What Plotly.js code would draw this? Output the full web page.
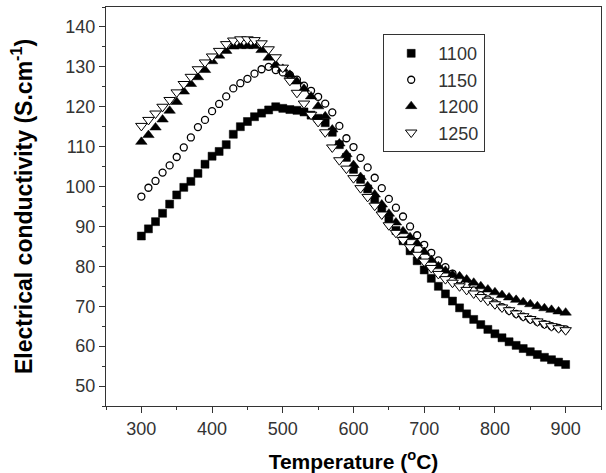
<!DOCTYPE html>
<html>
<head>
<meta charset="utf-8">
<script src="https://cdn.plot.ly/plotly-3.0.1.min.js"></script>
<style>
  html, body { margin: 0; padding: 0; background: #fff; }
  #chart { width: 606px; height: 473px; }
</style>
</head>
<body>
<div id="chart"></div>
<script>
// Temperature readings, 300–900 °C in 10 °C steps
const temperature = [
  300, 310, 320, 330, 340, 350, 360, 370, 380, 390,
  400, 410, 420, 430, 440, 450, 460, 470, 480, 490,
  500, 510, 520, 530, 540, 550, 560, 570, 580, 590,
  600, 610, 620, 630, 640, 650, 660, 670, 680, 690,
  700, 710, 720, 730, 740, 750, 760, 770, 780, 790,
  800, 810, 820, 830, 840, 850, 860, 870, 880, 890,
  900
];

// Electrical conductivity (S/cm) per sintering temperature
const sigma1100 = [
  87.6, 89.4, 91.2, 93.3, 95.6, 97.9, 99.8, 101.3, 103.3, 105.6,
  107.6, 108.8, 110.5, 113.1, 115.0, 116.3, 117.5, 118.4, 119.2, 120.0,
  119.6, 119.3, 119.1, 118.7, 117.9, 117.1, 116.0, 113.6, 110.5, 107.3,
  104.3, 101.8, 99.4, 96.9, 94.3, 91.6, 89.0, 86.4, 83.9, 81.4,
  79.1, 77.0, 75.0, 73.1, 71.3, 69.6, 68.1, 66.7, 65.4, 64.2,
  63.1, 62.1, 61.1, 60.2, 59.4, 58.6, 57.9, 57.2, 56.6, 56.0,
  55.4
];

const sigma1150 = [
  97.5, 99.7, 101.4, 103.5, 105.3, 107.4, 109.8, 112.3, 114.9, 116.7,
  118.9, 120.7, 122.6, 124.6, 125.9, 127.0, 128.3, 129.4, 130.0, 129.2,
  128.6, 128.0, 126.8, 125.3, 124.0, 122.5, 120.8, 118.6, 115.2, 112.1,
  109.9, 107.2, 104.8, 102.2, 99.6, 96.9, 94.7, 92.5, 90.0, 87.8,
  85.4, 83.4, 81.5, 79.8, 78.2, 76.7, 75.3, 74.0, 72.8, 71.7,
  70.7, 69.8, 68.9, 68.1, 67.4, 66.7, 66.1, 65.5, 65.0, 64.6,
  64.2
];

const sigma1200 = [
  111.2, 112.9, 114.8, 116.8, 119.0, 121.2, 123.8, 125.7, 127.4, 129.2,
  131.4, 132.8, 134.0, 135.1, 135.2, 135.2, 135.2, 134.2, 132.3, 130.5,
  129.5, 128.0, 126.3, 124.5, 122.6, 120.1, 117.6, 114.3, 110.8, 108.1,
  105.4, 102.4, 100.1, 98.0, 95.5, 93.2, 91.0, 88.8, 87.3, 85.7,
  83.6, 81.6, 80.0, 78.9, 77.9, 77.5, 76.7, 75.9, 75.0, 74.2,
  73.5, 72.8, 72.2, 71.6, 71.0, 70.5, 70.0, 69.5, 69.1, 68.7,
  68.4
];

const sigma1250 = [
  115.2, 116.7, 118.3, 120.0, 121.7, 123.6, 125.7, 127.5, 129.4, 131.1,
  132.6, 134.0, 135.7, 136.6, 136.9, 136.9, 136.7, 135.9, 134.4, 132.4,
  129.8, 126.5, 123.5, 120.8, 118.0, 116.2, 113.6, 109.8, 106.6, 104.5,
  102.1, 99.6, 97.4, 95.2, 93.0, 90.3, 88.4, 86.6, 84.8, 82.9,
  81.2, 79.6, 78.1, 76.8, 75.9, 75.0, 74.1, 73.2, 72.3, 71.4,
  70.5, 69.7, 69.0, 68.2, 67.5, 66.8, 66.2, 65.6, 65.0, 64.5,
  64.0
];

const seriesNames = ['1100', '1150', '1200', '1250'];

const FONT = 'Liberation Sans, Arial, sans-serif';
const INK = '#000';

function series(name, y, symbol, size, fill, lineWidth) {
  return {
    type: 'scatter',
    mode: 'markers',
    name: name,
    x: temperature,
    y: y,
    marker: {
      symbol: symbol,
      size: size,
      color: fill,
      line: { color: INK, width: lineWidth }
    }
  };
}

const traces = [
  series(seriesNames[0], sigma1100, 'square', 8, INK, 0.5),
  series(seriesNames[1], sigma1150, 'circle', 7, '#fff', 1.3),
  series(seriesNames[2], sigma1200, 'triangle-up', 10, INK, 0.5),
  series(seriesNames[3], sigma1250, 'triangle-down', 10, '#fff', 1)
];

const axisCommon = {
  showline: true,
  mirror: true,
  linecolor: '#333',
  linewidth: 1,
  showgrid: false,
  zeroline: false,
  ticks: 'outside',
  ticklen: 6,
  tickwidth: 1,
  tickcolor: '#333',
  tickfont: { family: FONT, size: 18, color: '#333' },
  automargin: false
};

const layout = {
  width: 606,
  height: 473,
  margin: { l: 106, r: 5, t: 7, b: 67 },
  paper_bgcolor: '#fff',
  plot_bgcolor: '#fff',
  showlegend: true,
  font: { family: FONT, color: INK },
  xaxis: Object.assign({}, axisCommon, {
    range: [250, 950],
    tick0: 300,
    dtick: 100,
    minor: { dtick: 50, ticks: 'outside', ticklen: 3, tickcolor: '#333' },
    title: {
      text: 'Temperature (<sup>o</sup>C)',
      font: { family: FONT, size: 21, color: INK, weight: 'bold' },
      standoff: 20
    }
  }),
  yaxis: Object.assign({}, axisCommon, {
    range: [45, 145],
    tick0: 50,
    dtick: 10,
    minor: { dtick: 5, ticks: 'outside', ticklen: 3, tickcolor: '#333' },
    title: {
      text: 'Electrical conductivity (S.cm<sup>-1</sup>)',
      font: { family: FONT, size: 23, color: INK, weight: 'bold' },
      standoff: 26
    }
  }),
  legend: {
    x: 0.56,
    y: 0.932,
    xanchor: 'left',
    yanchor: 'top',
    bgcolor: '#fff',
    bordercolor: '#333',
    borderwidth: 1,
    font: { family: FONT, size: 18, color: '#333' },
    itemwidth: 44
  }
};

Plotly.newPlot('chart', traces, layout, { staticPlot: true, displayModeBar: false });
</script>
</body>
</html>
